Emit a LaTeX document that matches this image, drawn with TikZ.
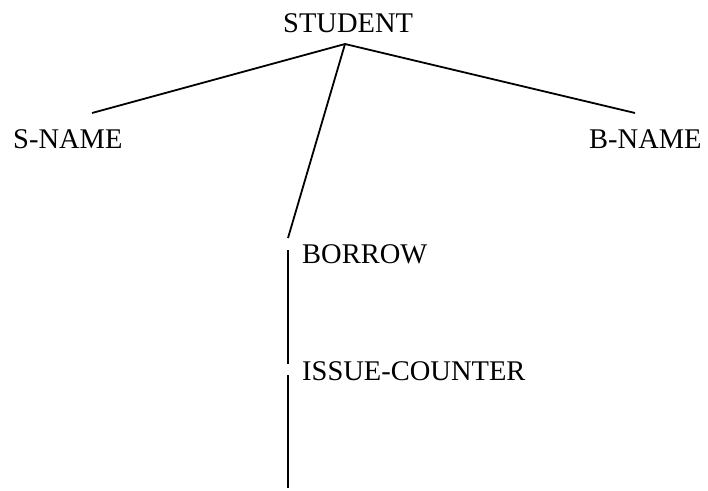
\documentclass[tikz,border=0pt]{standalone}
\usepackage{fontspec}
\setmainfont{Liberation Serif}
\begin{document}
\begin{tikzpicture}[x=1pt,y=-1pt,
  label/.style={anchor=base west,inner sep=0pt,font=\fontsize{28.5}{34}\selectfont},
  branch/.style={line width=1.8pt,line cap=butt}]
  \useasboundingbox (0,0) rectangle (708,490);

  % entity and attribute labels
  \node[label] (student) at (283,32) {STUDENT};
  \node[label] (sname)   at (13,148) {S-NAME};
  \node[label] (bname)   at (589,148) {B-NAME};
  \node[label] (borrow)  at (302,263) {BORROW};
  \node[label] (issue)   at (302,380) {ISSUE-COUNTER};

  % branch points
  \coordinate (root)  at (345,44);
  \coordinate (sEnd)  at (92,113);
  \coordinate (bEnd)  at (635,113);
  \coordinate (rEnd)  at (288,238);
  \coordinate (rTop)  at (288,250);
  \coordinate (rMid)  at (288,364);
  \coordinate (iTop)  at (288,375);
  \coordinate (iEnd)  at (288,488);

  % tree branches
  \draw[branch] (root) -- (sEnd);
  \draw[branch] (root) -- (bEnd);
  \draw[branch] (root) -- (rEnd);
  \draw[branch] (rTop) -- (rMid);
  \draw[branch] (iTop) -- (iEnd);
\end{tikzpicture}
\end{document}
